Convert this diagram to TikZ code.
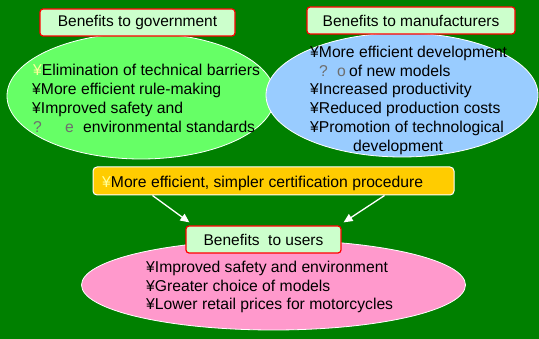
\documentclass[tikz,border=0pt]{standalone}
\usepackage{fontspec}
\setmainfont{Liberation Sans}
\usetikzlibrary{shapes.geometric,arrows.meta}
\definecolor{bggreen}{RGB}{0,128,0}
\definecolor{govfill}{RGB}{102,255,102}
\definecolor{manfill}{RGB}{153,204,255}
\definecolor{usrfill}{RGB}{255,153,204}
\definecolor{yelfill}{RGB}{255,204,0}
\definecolor{labfill}{RGB}{204,255,204}
\definecolor{paleyen}{RGB}{255,255,153}
\definecolor{garble}{RGB}{110,110,110}
\tikzset{
  blob/.style={ellipse, draw=white, line width=0.8pt, inner sep=0pt},
  labbox/.style={rectangle, rounded corners=3pt, draw=red, line width=1.2pt, fill=labfill, inner sep=0pt, font=\fontsize{15.5}{18}\selectfont},
  txt/.style={anchor=base west, inner sep=0pt, font=\fontsize{15.7}{19}\selectfont},
  arr/.style={draw=white, line width=1.3pt, -{Triangle[length=9pt,width=8pt,fill=white]}}
}
\begin{document}
\begin{tikzpicture}[x=1pt,y=-1pt]
\useasboundingbox (0,0) rectangle (539,339);
\fill[bggreen] (0,0) rectangle (539,339);
% ellipses
\node[blob, fill=govfill, minimum width=268pt, minimum height=126pt] (govell) at (141,96) {};
\node[blob, fill=manfill, minimum width=272pt, minimum height=124pt] (manell) at (402,95) {};
\node[blob, fill=usrfill, minimum width=384pt, minimum height=90pt] (usrell) at (273.5,285) {};
% labels
\node[labbox, minimum width=195pt, minimum height=27pt] (govlab) at (137.5,22.5) {Benefits to government};
\node[labbox, minimum width=208pt, minimum height=27pt] (manlab) at (411,20.5) {Benefits to manufacturers};
\node[labbox, minimum width=155pt, minimum height=27pt] (usrlab) at (263.5,239.5) {Benefits\ \ to users};
% yellow box
\node[rectangle, rounded corners=4pt, draw=white, line width=1pt, fill=yelfill, minimum width=361pt, minimum height=28pt, inner sep=0pt] (ybox) at (273.5,181) {};
\node[txt] (y1) at (102,187.5) {\textcolor{paleyen}{¥}More efficient, simpler certification procedure};
% government text
\node[txt] (g1) at (33,75.5) {\textcolor{paleyen}{¥}Elimination of technical barriers};
\node[txt] (g2) at (32,94.5) {¥More efficient rule-making};
\node[txt] (g3) at (32,113.5) {¥Improved safety and};
\node[txt] (g4) at (33,132.5) {\textcolor{garble}{\makebox[32pt][l]{?}\makebox[18pt][l]{e}}environmental standards};
% manufacturers text
\node[txt] (m1) at (310,57.5) {¥More efficient development};
\node[txt] (m2) at (319,76.3) {\textcolor{garble}{\makebox[18pt][l]{?}\makebox[12pt][l]{o}}of new models};
\node[txt] (m3) at (310,95) {¥Increased productivity};
\node[txt] (m4) at (310,113.8) {¥Reduced production costs};
\node[txt] (m5) at (310,132.6) {¥Promotion of technological};
\node[txt] (m6) at (353,151.4) {development};
% users text
\node[txt] (u1) at (146,272.5) {¥Improved safety and environment};
\node[txt] (u2) at (146,291.3) {¥Greater choice of models};
\node[txt] (u3) at (146,310) {¥Lower retail prices for motorcycles};
% arrows
\draw[arr] ([xshift=60pt]ybox.south west) -- ([xshift=4pt,yshift=3pt]usrlab.north west);
\draw[arr] ([xshift=-70pt]ybox.south east) -- ([xshift=2pt,yshift=3pt]usrlab.north east);
\end{tikzpicture}
\end{document}
